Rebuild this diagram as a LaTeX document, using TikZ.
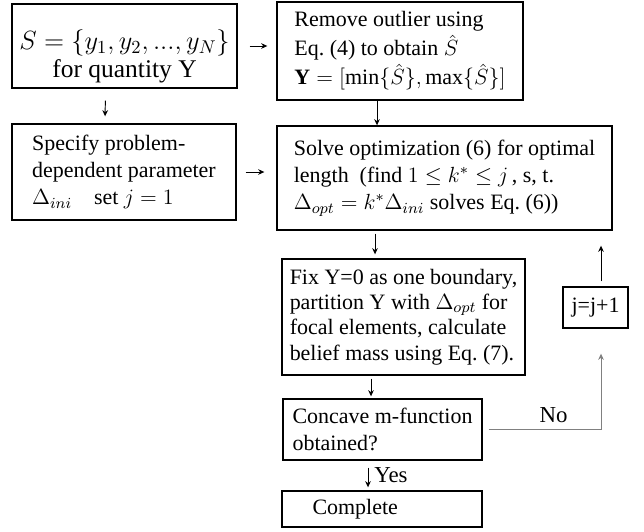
\RequirePackage{fix-cm}
\documentclass[tikz,border=0pt]{standalone}
\usepackage{amsmath, amssymb}
\usepackage{fontspec}
\setmainfont{Liberation Serif}
\usepackage{tikz}
\usetikzlibrary{arrows.meta, positioning, calc}

\begin{document}
\begin{tikzpicture}[
    x=0.02cm, y=-0.02cm,
    box/.style={draw, line width=0.8pt, align=left, inner sep=0pt,
                font=\fontsize{12.5}{15.5}\selectfont},
    arr/.style={-{Stealth[length=3.5pt, width=3.2pt]}, line width=0.55pt},
    lbl/.style={font=\fontsize{13}{15}\selectfont}
  ]
  \useasboundingbox (0,0) rectangle (644,531);

  % Data set and outlier removal
  \node[box, minimum width=4.5cm, minimum height=1.68cm, align=center] (data) at (124.5,46)
    {{\fontsize{15}{18}\selectfont \rule{0pt}{23pt}$S=\{y_1,y_2,...,y_N\}$}\\
     {\fontsize{14.5}{17}\selectfont for quantity Y}};
  \node[box, minimum width=4.92cm, minimum height=1.96cm,
        font=\fontsize{12.5}{16.5}\selectfont] (outlier) at (400,51)
    {Remove outlier using\\ Eq.~(4) to obtain $\hat{S}$\\
     $\mathbf{Y}=[\min\{\hat{S}\},\max\{\hat{S}\}]$};

  % Parameter and optimization
  \node[box, minimum width=4.48cm, minimum height=1.92cm] (param) at (124,172)
    {Specify problem-\\ dependent parameter\\ $\Delta_{ini}$\quad set $j=1$};
  \node[box, minimum width=6.7cm, minimum height=2.08cm] (solve) at (444.5,178)
    {Solve optimization (6) for optimal\\
     length\ \ (find $1\le k^*\le j$\,, s, t.\\
     $\Delta_{opt}=k^*\Delta_{ini}$ solves Eq.~(6))};

  % Partition and check
  \node[box, minimum width=4.86cm, minimum height=2.32cm,
        font=\fontsize{12.5}{14.5}\selectfont] (partition) at (403.5,317)
    {Fix Y=0 as one boundary,\\ partition Y with $\Delta_{opt}$ for\\
     focal elements, calculate\\ belief mass using Eq.~(7).};
  \node[box, minimum width=3.98cm, minimum height=1.22cm] (check) at (382.5,429.5)
    {Concave m-function\\ obtained?};
  \node[box, minimum width=4cm, minimum height=0.72cm, text width=3.58cm] (done) at (382,509)
    {\hspace*{0.4cm}Complete};
  \node[box, minimum width=1.3cm, minimum height=0.82cm, align=center] (incr) at (595.5,307.5)
    {j=j+1};

  % Edges
  \draw[arr, shorten <=0.24cm, shorten >=0.18cm] (data.east) -- (data.east -| outlier.west);
  \draw[arr, shorten <=0.24cm, shorten >=0.14cm]
    ([xshift=-0.38cm]data.south) -- ([xshift=-0.38cm]param.north);
  \draw[arr, shorten <=0.18cm, shorten >=0.24cm] (param.east) -- (param.east -| solve.west);
  \draw[arr] ([xshift=-0.46cm]outlier.south) -- ([xshift=-0.46cm]outlier.south |- solve.north);
  \draw[arr, shorten <=0.06cm, shorten >=0.08cm]
    ([xshift=-0.57cm]partition.north |- solve.south) -- ([xshift=-0.57cm]partition.north);
  \draw[arr, shorten <=0.06cm, shorten >=0.04cm]
    ([xshift=-0.23cm]check.north |- partition.south) -- ([xshift=-0.23cm]check.north);
  \draw[arr, shorten <=0.14cm, shorten >=0.06cm]
    ([xshift=-0.28cm]done.north |- check.south) -- node[right, lbl] {Yes} ([xshift=-0.28cm]done.north);

  % Loop back
  \draw[arr, gray, shorten <=0.12cm, shorten >=0.5cm]
    (check.east) -| node[pos=0.3, above, lbl, black] {No} ([xshift=0.11cm]incr.south);
  \draw[arr, shorten <=0.1cm, shorten >=0.3cm]
    ([xshift=0.11cm]incr.north) -- ([xshift=0.11cm]incr.north |- solve.south);

\end{tikzpicture}
\end{document}
